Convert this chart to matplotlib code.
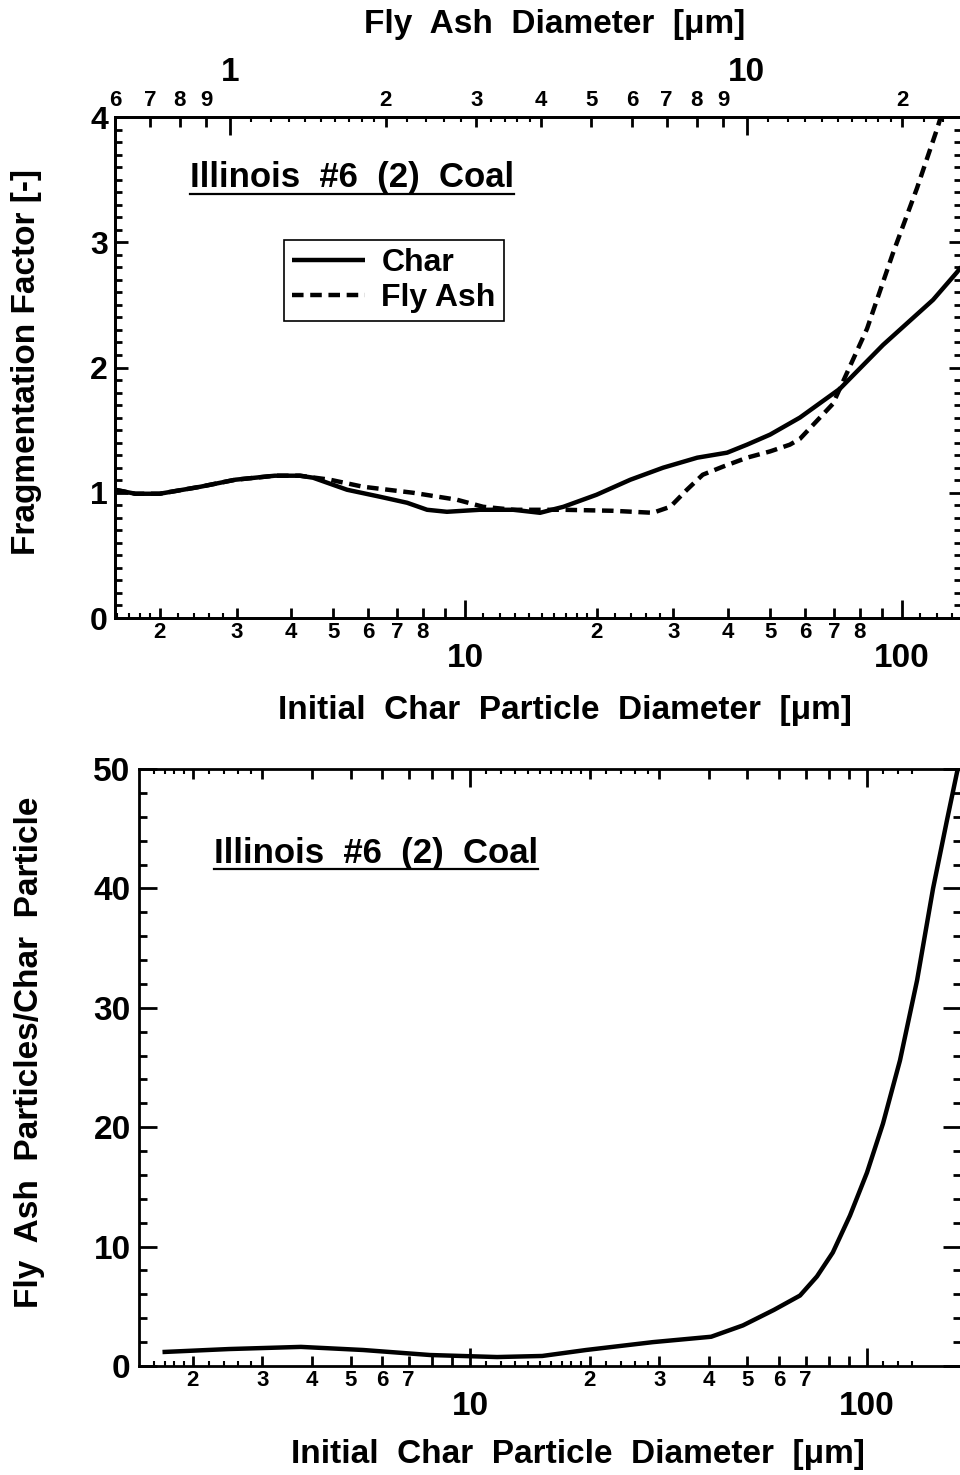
import numpy as np
import matplotlib
matplotlib.use('Agg')
import matplotlib.pyplot as plt
from matplotlib.ticker import FixedLocator, FuncFormatter, MultipleLocator, NullLocator
from matplotlib.lines import Line2D

plt.rcParams['font.family'] = ['Liberation Sans', 'DejaVu Sans']
plt.rcParams['font.weight'] = 'bold'
plt.rcParams['axes.linewidth'] = 2.0

# ---------------- data (top chart) ----------------
char_d_top = [1.58, 1.76, 2.00, 2.48, 2.98, 3.67, 4.19, 4.49, 5.37, 6.39, 7.37, 8.19, 9.09,
              10.8, 12.9, 14.85, 16.8, 20.0, 23.9, 28.4, 34.0, 39.8, 44.2, 49.9, 58.4,
              72.1, 90.5, 117.8, 133.6, 137.0]
char_ff = [1.024, 0.992, 0.992, 1.048, 1.104, 1.136, 1.136, 1.12, 1.024, 0.968, 0.92, 0.864, 0.848,
           0.864, 0.864, 0.84, 0.888, 0.984, 1.104, 1.2, 1.28, 1.32, 1.384, 1.464, 1.6,
           1.83, 2.18, 2.54, 2.76, 2.81]

ash_d_top = [1.58, 1.76, 2.00, 2.48, 2.98, 3.67, 4.19, 4.91, 5.84, 7.6, 9.59, 11.0, 12.9, 16.8,
             21.8, 26.9, 29.5, 32.2, 35.0, 38.9, 44.2, 49.9, 55.4, 58.4, 69.5, 83.2, 95.3,
             108.2, 120.2, 123.5]
ash_ff = [1.024, 0.992, 0.992, 1.048, 1.104, 1.136, 1.136, 1.104, 1.048, 1.0, 0.944, 0.888, 0.864, 0.864,
          0.856, 0.84, 0.888, 1.024, 1.144, 1.208, 1.28, 1.33, 1.384, 1.43, 1.71, 2.31, 2.91,
          3.43, 3.9, 4.03]

# ---------------- data (bottom chart) ----------------
char_d_bot = [1.68, 2.47, 3.75, 5.38, 7.93, 11.7, 15.2, 19.6, 28.9, 40.5, 48.7, 58.3, 67.8, 74.8,
              82.0, 90.6, 100.0, 109.7, 121.1, 133.7, 146.7, 159.0, 168.5, 174.0]
ash_per_char = [1.17, 1.42, 1.6, 1.34, 0.92, 0.75, 0.84, 1.34, 2.0, 2.45, 3.4, 4.7, 5.9, 7.5,
                9.5, 12.6, 16.2, 20.3, 25.6, 32.3, 40.0, 45.7, 49.7, 51.5]

# ---------------- ticks ----------------
char_major = [10, 100]
char_minor = [2, 3, 4, 5, 6, 7, 8, 9, 20, 30, 40, 50, 60, 70, 80, 90]
char_tiny = [1.6, 1.7, 1.8, 1.9, 2.2, 2.4, 2.6, 2.8,
             11, 12, 13, 14, 15, 16, 17, 18, 19, 22, 24, 26, 28,
             110, 120, 130]
top_minor_labeled = [2, 3, 4, 5, 6, 7, 8]
bot_minor_labeled = [2, 3, 4, 5, 6, 7]

ash_major = [1, 10]
ash_minor = [0.6, 0.7, 0.8, 0.9, 2, 3, 4, 5, 6, 7, 8, 9, 20]
ash_tiny = [1.1, 1.2, 1.3, 1.4, 1.5, 1.6, 1.7, 1.8, 1.9, 2.2, 2.4, 2.6, 2.8, 3.2, 3.4, 3.6, 3.8,
            11, 12, 13, 14, 15, 16, 17, 18, 19, 22, 24]

W, H = 960, 1475
fig = plt.figure(figsize=(W / 100, H / 100), dpi=100, facecolor='white')


def fax(l, t, r, b):
    return fig.add_axes([l / W, 1 - b / H, (r - l) / W, (b - t) / H])


def mant(v):
    return v / 10 ** np.floor(np.log10(v) + 1e-9)


def minor_fmt(labeled):
    def f(v, p):
        m = int(round(mant(v)))
        return str(m) if m in labeled else ''
    return FuncFormatter(f)


def add_tiny(ax, ticks, where):
    s = ax.secondary_xaxis(where)
    s.set_xticks(ticks)
    s.xaxis.set_minor_locator(NullLocator())
    s.tick_params(which='both', direction='in', length=3.5, width=1.5,
                  labelbottom=False, labeltop=False)
    for sp in s.spines.values():
        sp.set_visible(False)
    return s


MAJ_LS = 24
MIN_LS = 16

# ================= TOP CHART =================
ax1 = fax(115, 117, 961, 618)
ax1.set_xscale('log')
ax1.set_xlim(1.581, 136.5)
ax1.set_ylim(0, 4)
ax1.plot(char_d_top, char_ff, color='black', lw=3.2, solid_capstyle='butt', label='Char')
ax1.plot(ash_d_top, ash_ff, color='black', lw=3.2, linestyle=(0, (2.6, 1.5)), dash_capstyle='butt',
         label='Fly Ash')

ax1.xaxis.set_major_locator(FixedLocator(char_major))
ax1.xaxis.set_major_formatter(FuncFormatter(lambda v, p: f'{v:.0f}'))
ax1.xaxis.set_minor_locator(FixedLocator(char_minor))
ax1.xaxis.set_minor_formatter(minor_fmt(top_minor_labeled))
ax1.tick_params(axis='x', which='major', direction='in', length=13, width=2, labelsize=MAJ_LS, pad=18,
                top=False, bottom=True)
ax1.tick_params(axis='x', which='minor', direction='in', length=7, width=2, labelsize=MIN_LS, pad=3,
                top=False, bottom=True)
ax1.yaxis.set_major_locator(FixedLocator([0, 1, 2, 3, 4]))
ax1.yaxis.set_minor_locator(MultipleLocator(0.1))
ax1.tick_params(axis='y', which='major', direction='in', length=9, width=2, labelsize=23, pad=5,
                left=True, right=True)
ax1.tick_params(axis='y', which='minor', direction='in', length=5, width=2, left=True, right=True)
add_tiny(ax1, char_tiny, 'bottom')

ax2 = ax1.twiny()
ax2.set_xscale('log')
ax2.set_xlim(0.599, 26.0)
ax2.xaxis.set_major_locator(FixedLocator(ash_major))
ax2.xaxis.set_major_formatter(FuncFormatter(lambda v, p: f'{v:.0f}'))
ax2.xaxis.set_minor_locator(FixedLocator(ash_minor))
ax2.xaxis.set_minor_formatter(minor_fmt([2, 3, 4, 5, 6, 7, 8, 9]))
ax2.tick_params(axis='x', which='major', direction='in', length=13, width=2, labelsize=MAJ_LS, pad=21)
ax2.tick_params(axis='x', which='minor', direction='in', length=7, width=2, labelsize=MIN_LS, pad=4)
add_tiny(ax2, ash_tiny, 'top')

leg = ax1.legend(loc='upper left', bbox_to_anchor=(284 / W, 1 - 240 / H), bbox_transform=fig.transFigure,
                 fontsize=23, frameon=True, fancybox=False, edgecolor='black', framealpha=1,
                 handlelength=2.3, handletextpad=0.5, labelspacing=0.15, borderpad=0.25,
                 borderaxespad=0)
leg.get_frame().set_linewidth(1.2)

# ================= BOTTOM CHART =================
ax3 = fax(139, 769, 961, 1366)
ax3.set_xscale('log')
ax3.set_xlim(1.466, 172.5)
ax3.set_ylim(0, 50)
ax3.plot(char_d_bot, ash_per_char, color='black', lw=3.2, solid_capstyle='butt')
ax3.xaxis.set_major_locator(FixedLocator(char_major))
ax3.xaxis.set_major_formatter(FuncFormatter(lambda v, p: f'{v:.0f}'))
ax3.xaxis.set_minor_locator(FixedLocator(char_minor))
ax3.xaxis.set_minor_formatter(minor_fmt(bot_minor_labeled))
ax3.tick_params(axis='x', which='major', direction='in', length=13, width=2, labelsize=MAJ_LS, pad=18,
                top=True, bottom=True)
ax3.tick_params(axis='x', which='minor', direction='in', length=7, width=2, labelsize=MIN_LS, pad=3,
                top=True, bottom=True)
ax3.yaxis.set_major_locator(FixedLocator([0, 10, 20, 30, 40, 50]))
ax3.yaxis.set_minor_locator(MultipleLocator(2))
ax3.tick_params(axis='y', which='major', direction='in', length=13, width=2, labelsize=24, pad=6,
                left=True, right=True)
ax3.tick_params(axis='y', which='minor', direction='in', length=6, width=2, left=True, right=True)
add_tiny(ax3, char_tiny, 'bottom')
add_tiny(ax3, char_tiny, 'top')

# ================= TEXTS =================
fig.text(555 / W, 1 - 25 / H, 'Fly  Ash  Diameter  [μm]', ha='center', va='center', fontsize=24)
fig.text(565 / W, 1 - 711 / H, 'Initial  Char  Particle  Diameter  [μm]', ha='center', va='center',
         fontsize=24)
fig.text(27 / W, 1 - 362 / H, 'Fragmentation Factor [-]', ha='center', va='center', rotation=90,
         fontsize=24)
fig.text(578 / W, 1 - 1455 / H, 'Initial  Char  Particle  Diameter  [μm]', ha='center', va='center',
         fontsize=24)
fig.text(30 / W, 1 - 1052 / H, 'Fly  Ash  Particles/Char  Particle', ha='center', va='center',
         rotation=90, fontsize=24)

t1 = fig.text(190 / W, 1 - 178 / H, 'Illinois  #6  (2)  Coal', ha='left', va='center', fontsize=25)
t2 = fig.text(214 / W, 1 - 853 / H, 'Illinois  #6  (2)  Coal', ha='left', va='center', fontsize=25)

fig.canvas.draw()
r = fig.canvas.get_renderer()
for t in (t1, t2):
    bb = t.get_window_extent(r)
    yy = (bb.y0 + 1) / H
    fig.add_artist(Line2D([bb.x0 / W, bb.x1 / W], [yy, yy], transform=fig.transFigure,
                          color='black', lw=1.6))

fig.savefig('out.png', dpi=100, facecolor='white')
